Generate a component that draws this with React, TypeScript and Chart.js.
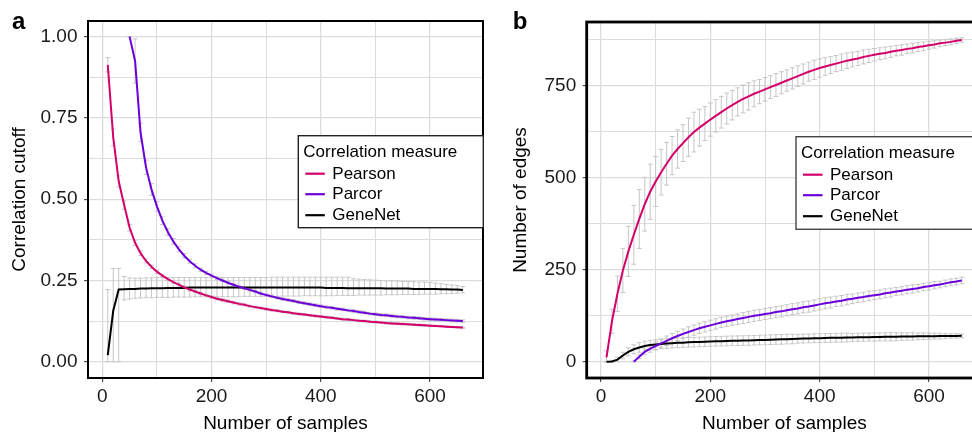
import React, { useEffect, useRef } from "react";
import { Chart, registerables } from "chart.js";

Chart.register(...registerables);

const FONT = '"Liberation Sans", Arial, Helvetica, sans-serif';
Chart.defaults.font.family = FONT;

// ---------------- data ----------------
const samples = [
  10, 20, 30, 40, 50, 60, 70, 80, 90, 100, 110, 120, 130, 140, 150, 160, 170, 180, 190, 200,
  210, 220, 230, 240, 250, 260, 270, 280, 290, 300, 310, 320, 330, 340, 350, 360, 370, 380, 390, 400,
  410, 420, 430, 440, 450, 460, 470, 480, 490, 500, 510, 520, 530, 540, 550, 560, 570, 580, 590, 600,
  610, 620, 630, 640, 650, 660,
];
const parcorSamplesA = samples.slice(4); // 50 .. 660
const parcorSamplesB = samples.slice(5); // 60 .. 660

// Panel a: correlation cutoff
const pearsonCutoff = [
  0.913, 0.69, 0.555, 0.482, 0.412, 0.366, 0.334, 0.31, 0.292, 0.277,
  0.265, 0.254, 0.245, 0.237, 0.229, 0.222, 0.216, 0.21, 0.204, 0.199,
  0.194, 0.19, 0.186, 0.182, 0.178, 0.175, 0.171, 0.168, 0.165, 0.162,
  0.159, 0.157, 0.154, 0.152, 0.149, 0.147, 0.145, 0.143, 0.141, 0.139,
  0.137, 0.135, 0.133, 0.131, 0.13, 0.128, 0.126, 0.125, 0.123, 0.122,
  0.121, 0.119, 0.118, 0.117, 0.116, 0.115, 0.114, 0.113, 0.112, 0.111,
  0.11, 0.109, 0.108, 0.107, 0.106, 0.105,
];
const pearsonCutoffSd = [
  0.022, 0.026, 0.017, 0.013, 0.01, 0.008, 0.007, 0.006, 0.005, 0.005,
  0.004, 0.004, 0.004, 0.004, 0.004, 0.004, 0.004, 0.004, 0.004, 0.004,
  0.004, 0.004, 0.004, 0.004, 0.004, 0.003, 0.003, 0.003, 0.003, 0.003,
  0.003, 0.003, 0.003, 0.003, 0.003, 0.003, 0.003, 0.003, 0.003, 0.003,
  0.003, 0.003, 0.003, 0.003, 0.003, 0.003, 0.003, 0.003, 0.003, 0.003,
  0.003, 0.003, 0.003, 0.003, 0.003, 0.003, 0.003, 0.003, 0.003, 0.003,
  0.002, 0.002, 0.002, 0.002, 0.002, 0.002,
];
const parcorCutoff = [
  1.0, 0.925, 0.705, 0.598, 0.53, 0.478, 0.434, 0.399, 0.37, 0.346,
  0.326, 0.309, 0.295, 0.283, 0.273, 0.265, 0.257, 0.25, 0.243, 0.237,
  0.231, 0.226, 0.221, 0.216, 0.21, 0.205, 0.201, 0.197, 0.193, 0.19,
  0.187, 0.183, 0.18, 0.177, 0.174, 0.171, 0.168, 0.166, 0.163, 0.161,
  0.158, 0.156, 0.153, 0.151, 0.148, 0.146, 0.144, 0.143, 0.141, 0.139,
  0.138, 0.136, 0.135, 0.134, 0.132, 0.131, 0.13, 0.129, 0.128, 0.127,
  0.126, 0.125,
];
const parcorCutoffSd = [
  0, 0.068, 0.028, 0.022, 0.018, 0.015, 0.012, 0.01, 0.009, 0.008,
  0.007, 0.006, 0.006, 0.005, 0.005, 0.005, 0.004, 0.004, 0.004, 0.004,
  0.004, 0.004, 0.004, 0.004, 0.004, 0.004, 0.004, 0.004, 0.004, 0.004,
  0.004, 0.004, 0.004, 0.004, 0.004, 0.004, 0.004, 0.004, 0.004, 0.004,
  0.004, 0.004, 0.004, 0.004, 0.004, 0.004, 0.004, 0.004, 0.004, 0.004,
  0.004, 0.004, 0.004, 0.004, 0.004, 0.004, 0.004, 0.004, 0.004, 0.004,
  0.004, 0.004,
];
const genenetCutoff = [
  0.02, 0.157, 0.222, 0.223, 0.224, 0.224, 0.225, 0.225, 0.226, 0.226,
  0.226, 0.227, 0.227, 0.227, 0.227, 0.228, 0.228, 0.228, 0.228, 0.228,
  0.228, 0.228, 0.228, 0.228, 0.228, 0.228, 0.228, 0.228, 0.228, 0.228,
  0.228, 0.228, 0.228, 0.228, 0.228, 0.228, 0.228, 0.228, 0.228, 0.228,
  0.227, 0.227, 0.227, 0.227, 0.226, 0.226, 0.226, 0.226, 0.226, 0.226,
  0.226, 0.225, 0.225, 0.225, 0.225, 0.225, 0.224, 0.224, 0.224, 0.224,
  0.224, 0.223, 0.223, 0.222, 0.222, 0.221,
];
const genenetCutoffLow = [
  0, 0, 0, 0.19, 0.193, 0.195, 0.196, 0.197, 0.197, 0.198,
  0.198, 0.198, 0.199, 0.199, 0.199, 0.199, 0.2, 0.2, 0.2, 0.2,
  0.2, 0.2, 0.2, 0.2, 0.2, 0.201, 0.201, 0.201, 0.201, 0.201,
  0.201, 0.201, 0.202, 0.202, 0.202, 0.202, 0.203, 0.203, 0.203, 0.203,
  0.203, 0.203, 0.204, 0.204, 0.204, 0.204, 0.205, 0.205, 0.205, 0.205,
  0.205, 0.206, 0.206, 0.206, 0.207, 0.207, 0.207, 0.207, 0.208, 0.208,
  0.208, 0.209, 0.209, 0.21, 0.211, 0.212,
];
const genenetCutoffHigh = [
  0.222, 0.287, 0.287, 0.262, 0.258, 0.257, 0.257, 0.258, 0.258, 0.259,
  0.259, 0.259, 0.259, 0.259, 0.259, 0.259, 0.259, 0.259, 0.259, 0.259,
  0.259, 0.259, 0.259, 0.259, 0.259, 0.259, 0.259, 0.259, 0.259, 0.259,
  0.26, 0.26, 0.26, 0.26, 0.26, 0.26, 0.26, 0.26, 0.26, 0.26,
  0.26, 0.26, 0.26, 0.26, 0.26, 0.255, 0.254, 0.253, 0.252, 0.251,
  0.25, 0.249, 0.249, 0.248, 0.247, 0.247, 0.246, 0.245, 0.245, 0.244,
  0.242, 0.24, 0.238, 0.236, 0.234, 0.231,
];

// Panel b: number of edges
const pearsonEdges = [
  12, 110, 185, 248, 300, 345, 388, 428, 462, 490,
  515, 538, 560, 578, 594, 610, 624, 636, 647, 658,
  668, 678, 688, 697, 706, 714, 721, 728, 734, 740,
  746, 752, 758, 764, 770, 776, 782, 788, 793, 798,
  802, 806, 810, 814, 818, 821, 824, 828, 831, 834,
  837, 839, 842, 845, 847, 850, 852, 855, 857, 860,
  862, 865, 867, 869, 872, 874,
];
const pearsonEdgesSd = [
  18, 33, 48, 60, 68, 80, 80, 73, 75, 68,
  62, 58, 52, 52, 50, 52, 54, 50, 46, 45,
  44, 43, 42, 40, 38, 38, 37, 35, 33, 32,
  31, 31, 30, 29, 29, 28, 27, 26, 26, 25,
  24, 23, 22, 22, 21, 20, 19, 19, 18, 17,
  16, 16, 15, 14, 14, 13, 13, 12, 12, 11,
  10, 9, 8, 8, 7, 6,
];
const parcorEdges = [
  0, 14, 27, 36, 43, 50, 57, 64, 70, 76,
  81, 86, 91, 95, 99, 103, 107, 110, 113, 116,
  119, 122, 125, 127, 130, 132, 135, 137, 140, 143,
  145, 148, 150, 153, 156, 159, 161, 164, 166, 169,
  171, 174, 176, 179, 181, 183, 186, 188, 191, 193,
  196, 198, 200, 203, 205, 208, 210, 213, 216, 218,
  221,
];
const parcorEdgesSd = [
  2, 5, 8, 10, 11, 12, 13, 13, 13, 13,
  14, 14, 14, 14, 14, 14, 14, 14, 14, 14,
  15, 15, 15, 15, 15, 15, 15, 15, 15, 15,
  15, 15, 15, 15, 15, 15, 15, 14, 14, 14,
  13, 13, 13, 13, 12, 12, 12, 12, 11, 11,
  11, 11, 10, 10, 10, 10, 9, 9, 9, 9,
  9,
];
const genenetEdges = [
  0, 1, 6, 17, 27, 34, 39, 43, 45.5, 47,
  48.5, 49.5, 50.5, 51.5, 52, 53, 53.5, 54, 54.5, 55,
  55.5, 56, 56.5, 57, 57.3, 57.7, 58, 58.5, 59, 59.5,
  60, 60.5, 61, 61.5, 62, 62.5, 63, 63.5, 64, 64.3,
  64.6, 65, 65.3, 65.6, 66, 66.2, 66.5, 66.8, 67, 67.3,
  67.5, 67.8, 68, 68.2, 68.5, 68.7, 68.9, 69.1, 69.3, 69.5,
  69.7, 69.9, 70, 70.2, 70.4, 70.5,
];
const genenetEdgesSd = [
  1, 3, 6, 9, 11, 12, 13, 13, 13, 13,
  13, 13, 13, 13, 13, 13, 13, 13, 13, 13,
  13, 13, 13, 13, 13, 13, 13, 13, 13, 13,
  13, 13, 13, 13, 13, 12, 12, 12, 12, 12,
  12, 12, 12, 12, 12, 11, 11, 11, 11, 11,
  11, 11, 11, 11, 10, 10, 10, 9, 9, 9,
  8, 8, 7, 6, 6, 5,
];

// ticks
const xTicks = [0, 100, 200, 300, 400, 500, 600];
const xTickLabels = ["0", "", "200", "", "400", "", "600"];
const cutoffTicks = [0, 0.125, 0.25, 0.375, 0.5, 0.625, 0.75, 0.875, 1];
const cutoffTickLabels = ["0.00", "", "0.25", "", "0.50", "", "0.75", "", "1.00"];
const edgeTicks = [0, 125, 250, 375, 500, 625, 750, 875];
const edgeTickLabels = ["0", "", "250", "", "500", "", "750", ""];

const seriesNames = ["Pearson", "Parcor", "GeneNet"];
const seriesColors = ["#d4006c", "#6b00db", "#000000"];
const legendTitle = "Correlation measure";

// ---------------- plugins ----------------
const errorBarPlugin = {
  id: "errorBars",
  beforeDatasetsDraw(chart: any) {
    const { ctx, chartArea, scales } = chart;
    const xs = scales.x;
    const ys = scales.y;
    ctx.save();
    ctx.beginPath();
    ctx.rect(chartArea.left, chartArea.top, chartArea.right - chartArea.left, chartArea.bottom - chartArea.top);
    ctx.clip();
    ctx.strokeStyle = "#c6c6c6";
    ctx.lineWidth = 1;
    const cap = 2.4;
    chart.data.datasets.forEach((ds: any) => {
      ds.data.forEach((p: any, i: number) => {
        let lo: number;
        let hi: number;
        if (ds.errLo) {
          lo = ds.errLo[i];
          hi = ds.errHi[i];
        } else if (ds.errSd) {
          lo = p.y - ds.errSd[i];
          hi = p.y + ds.errSd[i];
        } else return;
        if (ds.errMin !== undefined) lo = Math.max(lo, ds.errMin);
        const px = xs.getPixelForValue(p.x);
        const y1 = ys.getPixelForValue(lo);
        const y2 = ys.getPixelForValue(hi);
        ctx.beginPath();
        ctx.moveTo(px, y1);
        ctx.lineTo(px, y2);
        ctx.moveTo(px - cap, y1);
        ctx.lineTo(px + cap, y1);
        ctx.moveTo(px - cap, y2);
        ctx.lineTo(px + cap, y2);
        ctx.stroke();
      });
    });
    ctx.restore();
  },
};

function panelBorderPlugin(width: number) {
  return {
    id: "panelBorder",
    afterDatasetsDraw(chart: any) {
      const { ctx, chartArea } = chart;
      ctx.save();
      ctx.strokeStyle = "#000";
      ctx.lineWidth = width;
      ctx.strokeRect(chartArea.left, chartArea.top, chartArea.right - chartArea.left, chartArea.bottom - chartArea.top);
      ctx.restore();
    },
  };
}

function boxLegendPlugin(spec: { left: number; top: number; width: number; height: number; borderColor: string }) {
  return {
    id: "boxLegend",
    afterDraw(chart: any) {
      const { ctx } = chart;
      ctx.save();
      ctx.fillStyle = "#fff";
      ctx.fillRect(spec.left, spec.top, spec.width, spec.height);
      ctx.lineWidth = 1.4;
      ctx.strokeStyle = spec.borderColor;
      ctx.strokeRect(spec.left, spec.top, spec.width, spec.height);
      ctx.font = `17px ${FONT}`;
      ctx.fillStyle = "#000";
      ctx.textAlign = "left";
      ctx.textBaseline = "alphabetic";
      ctx.fillText(legendTitle, spec.left + 5, spec.top + 21);
      const rows = [38, 58.5, 79.5];
      chart.data.datasets.forEach((ds: any, i: number) => {
        const cy = spec.top + rows[i];
        ctx.strokeStyle = ds.borderColor;
        ctx.lineWidth = 2.2;
        ctx.beginPath();
        ctx.moveTo(spec.left + 7, cy);
        ctx.lineTo(spec.left + 26.5, cy);
        ctx.stroke();
        ctx.fillStyle = "#000";
        ctx.textBaseline = "middle";
        ctx.fillText(ds.label, spec.left + 34, cy + 0.5);
      });
      ctx.restore();
    },
  };
}

function panelLabelPlugin(text: string, x: number, y: number) {
  return {
    id: "panelLabel",
    afterDraw(chart: any) {
      const { ctx } = chart;
      ctx.save();
      ctx.font = `bold 24px ${FONT}`;
      ctx.fillStyle = "#000";
      ctx.textAlign = "left";
      ctx.textBaseline = "alphabetic";
      ctx.fillText(text, x, y);
      ctx.restore();
    },
  };
}

// ---------------- config ----------------
function makeDataset(label: string, color: string, xs: number[], ys: number[], extra: any) {
  return {
    label,
    data: xs.map((x, i) => ({ x, y: ys[i] })),
    borderColor: color,
    backgroundColor: color,
    borderWidth: 2,
    pointRadius: 0,
    tension: 0,
    fill: false,
    ...extra,
  };
}

function buildConfig(p: any) {
  const gridColor = "#dcdcdc";
  return {
    type: "line",
    data: { datasets: p.datasets },
    plugins: [errorBarPlugin, panelBorderPlugin(p.borderWidth), boxLegendPlugin(p.legend), panelLabelPlugin(p.label, p.labelX, 29)],
    options: {
      responsive: false,
      animation: false,
      events: [],
      devicePixelRatio: 1,
      layout: { padding: p.padding },
      plugins: { legend: { display: false }, tooltip: { enabled: false } },
      scales: {
        x: {
          type: "linear",
          min: -26.2,
          max: 697,
          afterBuildTicks: (s: any) => {
            s.ticks = xTicks.map((v) => ({ value: v }));
          },
          afterFit: (s: any) => {
            s.height = 54;
          },
          border: { display: false },
          grid: {
            color: gridColor,
            lineWidth: (c: any) => (xTickLabels[c.index] ? 1.3 : 1),
            drawTicks: true,
            tickLength: 4,
            tickWidth: 1,
            tickColor: (c: any) => (xTickLabels[c.index] ? "#333" : "rgba(0,0,0,0)"),
          },
          ticks: {
            autoSkip: false,
            maxRotation: 0,
            padding: 3.4,
            color: "#1a1a1a",
            font: { family: FONT, size: 19, lineHeight: 1.2 },
            callback: (_v: any, i: number) => xTickLabels[i],
          },
          title: {
            display: true,
            text: "Number of samples",
            color: "#000",
            font: { family: FONT, size: 19, lineHeight: 1 },
            padding: { top: 0, bottom: -1.5 },
          },
        },
        y: {
          type: "linear",
          min: p.yMin,
          max: p.yMax,
          afterBuildTicks: (s: any) => {
            s.ticks = p.yTicks.map((v: number) => ({ value: v }));
          },
          afterFit: (s: any) => {
            s.width = p.yAxisWidth;
          },
          border: { display: false },
          grid: {
            color: gridColor,
            lineWidth: (c: any) => (p.yTickLabels[c.index] ? 1.3 : 1),
            drawTicks: true,
            tickLength: 4,
            tickWidth: 1,
            tickColor: (c: any) => (p.yTickLabels[c.index] ? "#333" : "rgba(0,0,0,0)"),
          },
          ticks: {
            autoSkip: false,
            padding: 6.5,
            color: "#1a1a1a",
            font: { family: FONT, size: 19, lineHeight: 1.2 },
            callback: (_v: any, i: number) => p.yTickLabels[i],
          },
          title: {
            display: true,
            text: p.yTitle,
            color: "#000",
            font: { family: FONT, size: 19, lineHeight: 1 },
            padding: { top: p.yTitlePad, bottom: 0 },
          },
        },
      },
    },
  };
}

const panelA = () =>
  buildConfig({
    datasets: [
      makeDataset(seriesNames[0], seriesColors[0], samples, pearsonCutoff, { errSd: pearsonCutoffSd }),
      makeDataset(seriesNames[1], seriesColors[1], parcorSamplesA, parcorCutoff, { errSd: parcorCutoffSd }),
      makeDataset(seriesNames[2], seriesColors[2], samples, genenetCutoff, { errLo: genenetCutoffLow, errHi: genenetCutoffHigh }),
    ],
    yMin: -0.05,
    yMax: 1.048,
    yTicks: cutoffTicks,
    yTickLabels: cutoffTickLabels,
    yTitle: "Correlation cutoff",
    yAxisWidth: 88,
    yTitlePad: 10,
    padding: { left: 0, top: 21, right: 7, bottom: 0 },
    borderWidth: 2,
    legend: { left: 298.3, top: 135.7, width: 185, height: 92, borderColor: "#222" },
    label: "a",
    labelX: 12,
  });

const panelB = () =>
  buildConfig({
    datasets: [
      makeDataset(seriesNames[0], seriesColors[0], samples, pearsonEdges, { errSd: pearsonEdgesSd, errMin: 0 }),
      makeDataset(seriesNames[1], seriesColors[1], parcorSamplesB, parcorEdges, { errSd: parcorEdgesSd, errMin: 0 }),
      makeDataset(seriesNames[2], seriesColors[2], samples, genenetEdges, { errSd: genenetEdgesSd, errMin: 0 }),
    ],
    yMin: -44,
    yMax: 923,
    yTicks: edgeTicks,
    yTickLabels: edgeTickLabels,
    yTitle: "Number of edges",
    yAxisWidth: 96.7,
    yTitlePad: 21.5,
    padding: { left: 0, top: 22, right: 8, bottom: 0 },
    borderWidth: 2.8,
    legend: { left: 306, top: 136.7, width: 250, height: 92.6, borderColor: "#444" },
    label: "b",
    labelX: 22.7,
  });

function PanelChart({ makeConfig, left, width }: { makeConfig: () => any; left: number; width: number }) {
  const ref = useRef<HTMLCanvasElement>(null);
  useEffect(() => {
    const chart = new Chart(ref.current as HTMLCanvasElement, makeConfig() as any);
    return () => chart.destroy();
  }, []);
  return (
    <canvas
      ref={ref}
      width={width}
      height={432}
      style={{ position: "absolute", left, top: 0, width, height: 432, display: "block" }}
    />
  );
}

export default function App() {
  return (
    <div
      style={{
        position: "fixed",
        left: 0,
        top: 0,
        width: 972,
        height: 432,
        overflow: "hidden",
        background: "#ffffff",
      }}
    >
      <PanelChart makeConfig={panelA} left={0} width={490} />
      <PanelChart makeConfig={panelB} left={490} width={500} />
    </div>
  );
}
